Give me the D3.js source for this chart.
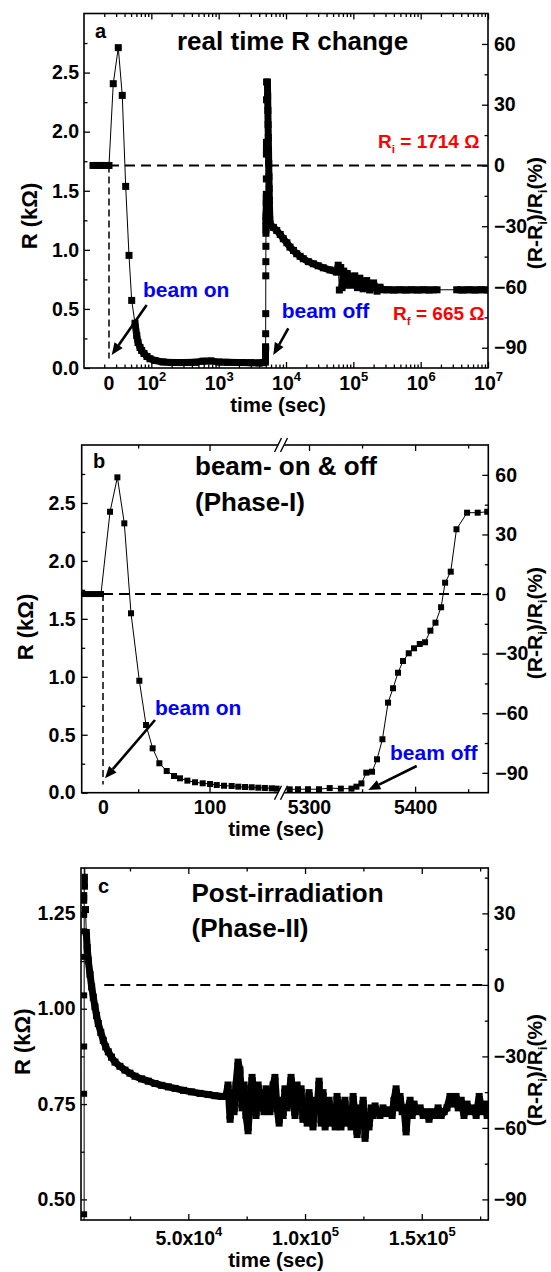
<!DOCTYPE html>
<html>
<head>
<meta charset="utf-8">
<title>R change under beam</title>
<script src="https://cdn.jsdelivr.net/npm/d3@7"></script>
<style>
  body { margin: 0; background: #fff; }
  svg text { font-family: "Liberation Sans", Arial, Helvetica, sans-serif; font-weight: bold; }
</style>
</head>
<body>
<svg id="fig" width="551" height="1272"></svg>
<script>
// ---------- data (time in s, R in kOhm) ----------
const RI = 1.714;

// panel a : log time axis, label "0" sits at beam-on
const aTimeZero = 23.5;
const aBeamOn = [[13.6,1.714],[15.6,1.714],[17.9,1.714],[20.5,1.714],[23.5,1.714],
  [27.2,2.406],[32.3,2.711],[37.0,2.307],[41.6,1.537],[46.6,0.953],[51.1,0.572],[57.2,0.379],[60.7,0.275],
  [63.4,0.216],[67.9,0.174],[71.9,0.148],[77.8,0.123],[86.2,0.097],[95.6,0.078],
  [113,0.064],[149,0.051],[196,0.047],[258,0.046],[339,0.047],[445,0.048],[585,0.058],[770,0.06],
  [1012,0.05],[1330,0.048],[1749,0.047],[2298,0.046],[3021,0.045],[3971,0.043],[4555,0.045]];
const aRise = [[4950,0.05],[4960,0.08],[4970,0.17],[4980,0.18],[4990,0.29],[5000,0.46],[5010,0.78],
  [5020,0.90],[5030,1.03],[5040,1.14],[5050,1.20],[5060,1.25],[5070,1.28],[5080,1.30],[5090,1.40],
  [5100,1.47],[5110,1.60],[5120,1.81],[5130,1.91],[5140,2.27],[5150,2.42]];
const aDecline = [[5300,2.42],[5340,2.30],[5380,2.18],[5420,2.06],[5460,1.95],[5500,1.84],[5540,1.73],
  [5580,1.62],[5620,1.52],[5660,1.42],[5700,1.33],[5740,1.26],[5788,1.22]];
const aRecover = [[6500,1.19],[7280,1.164],[8200,1.13],[9120,1.094],[10300,1.06],[11470,1.023],
  [12900,0.995],[14430,0.967],[16200,0.945],[18080,0.925],[21500,0.90],[25460,0.882],[30000,0.865],
  [35850,0.848],[45000,0.83],[56620,0.811],
  [59600,0.87],[62000,0.66],[65000,0.85],[68000,0.68],[72000,0.82],[76000,0.70],[81000,0.80],
  [89300,0.77],[95000,0.70],[105000,0.78],[115000,0.68],[125000,0.76],[140000,0.67],[158000,0.74],
  [175000,0.66],[200000,0.72],[225000,0.65],[249000,0.684],[276000,0.662],
  [330000,0.662],[400000,0.66],[490000,0.662],[600000,0.66],[730000,0.662],[900000,0.66],
  [1100000,0.662],[1350000,0.66],[1750000,0.662],
  [3430000,0.662],[4200000,0.66],[5200000,0.662],[6400000,0.66],[7900000,0.662],[10000000,0.66]];

// panel b : broken linear axis
const bOn = [[-17.8,1.714],[-12.2,1.714],[-6.6,1.714],[-1.9,1.714],
  [6.6,2.424],[13.5,2.721],[20,2.324],[26.3,1.548],[34.1,0.966],[40.4,0.584],[46.6,0.383],[52.9,0.254],
  [59.8,0.187],[66.7,0.144],[72.3,0.124],[79.2,0.104],[86.4,0.090],[93.6,0.081],[100.5,0.075],
  [106.8,0.066],[113.6,0.060],[120.8,0.058],[127,0.052],[133.3,0.049],[139.6,0.047],[145.8,0.043],
  [152,0.041],[158.4,0.038],[163,0.035]];
const bOff = [[5281.8,0.029],[5289.6,0.03],[5299,0.03],[5309.4,0.03],[5319.5,0.04],[5330,0.035],
  [5340,0.035],[5344.7,0.052],[5349.4,0.08],[5354,0.173],[5359.4,0.181],[5364.1,0.288],[5369.2,0.461],
  [5374.5,0.777],[5379.2,0.901],[5383.9,1.035],[5388.6,1.136],[5394,1.203],[5399,1.246],[5404.4,1.283],
  [5409.4,1.298],[5414.4,1.398],[5419.2,1.467],[5424.5,1.600],[5428.3,1.812],[5433.6,1.907],
  [5439,2.273],[5449,2.416],[5459,2.416],[5468,2.424]];

// panel c : post irradiation
const cRise = [[5354,0.173],[5359,0.181],[5364,0.288],[5369,0.461],[5374,0.777],[5379,0.901],
  [5384,1.035],[5389,1.136],[5394,1.203],[5399,1.246],[5404,1.283],[5409,1.298],[5414,1.398],
  [5419,1.467],[5424,1.600],[5428,1.812],[5434,1.907],[5439,2.273],[5449,2.416],[5459,2.416],[5468,2.424],
  [5520,2.1],[5580,1.75],[5640,1.45],[5680,1.346],[5720,1.32]];
const cDecay = [[5950,1.26],[6300,1.20],[6700,1.16],[7150,1.127],[7900,1.09],[8610,1.057],[9300,1.03],
  [10020,1.005],[10700,0.982],[11440,0.961],[12500,0.938],[13580,0.917],[14600,0.90],[15720,0.887],
  [17100,0.873],[18590,0.86],[20700,0.849],[22880,0.839],[25000,0.831],[27160,0.823],[30000,0.816],
  [32860,0.81],[35700,0.804],[38600,0.799],[41500,0.795],[44320,0.791],[47900,0.786],[51450,0.782],
  [55000,0.778],[58560,0.775],[61400,0.772],[64300,0.77]];
const cNoise = [[66100,0.77],[67000,0.80],[67900,0.71],[68700,0.78],[69600,0.73],[70400,0.80],
  [71300,0.86],[72100,0.84],[73000,0.74],[73900,0.80],[74700,0.72],[75600,0.68],[76400,0.75],
  [77300,0.82],[78100,0.78],[79000,0.72],[79900,0.80],[80700,0.74],[81600,0.78],[82400,0.73],
  [83300,0.79],[84100,0.75],[85000,0.73],[86300,0.80],[87100,0.82],[88000,0.74],[88900,0.70],
  [89700,0.76],[90600,0.72],[91400,0.79],[92300,0.74],[93100,0.77],[94000,0.82],[94900,0.76],
  [95700,0.72],[96600,0.80],[97400,0.74],[98300,0.79],[99100,0.71],[100000,0.76],[100900,0.70],
  [101700,0.78],[102600,0.72],[103400,0.69],[104300,0.76],[105100,0.73],[106000,0.81],[106900,0.70],
  [107700,0.78],[108600,0.69],[109400,0.74],[110300,0.76],[111100,0.70],[112000,0.74],[112900,0.69],
  [113700,0.77],[114600,0.72],[115400,0.69],[116300,0.75],[117100,0.76],[118000,0.70],[118900,0.73],
  [119700,0.69],[120600,0.77],[121400,0.72],[122300,0.67],[123100,0.74],[124000,0.70],[124900,0.76],
  [125700,0.66],[126600,0.72],[127400,0.69],[128300,0.74],[129100,0.72],[130000,0.745],[130900,0.73],
  [132100,0.72],[133400,0.74],[134700,0.725],[136000,0.735],[137300,0.72],[138100,0.76],[139000,0.79],
  [139900,0.74],[140700,0.77],[141600,0.73],[142400,0.74],[143300,0.677],[144100,0.74],[145000,0.76],
  [145900,0.72],[146700,0.75],[148000,0.73],[149300,0.74],[150600,0.72],[151900,0.73],[153100,0.71],
  [154400,0.73],[155700,0.72],[157000,0.74],[158300,0.72],[159600,0.73],[160800,0.74],[162100,0.77],
  [163000,0.76],[163900,0.75],[164700,0.77],[165600,0.74],[166900,0.76],[168100,0.72],[169400,0.75],
  [170700,0.73],[172000,0.74],[173300,0.72],[174600,0.77],[175800,0.73],[177100,0.75],[178000,0.72]];

// axis ticks
const rTicksMajor = [-90, -60, -30, 0, 30, 60];
const rTicksMinor = [-75, -45, -15, 15, 45];
const kTicksMajor = [0, 0.5, 1.0, 1.5, 2.0, 2.5];
const kTicksMinor = [0.25, 0.75, 1.25, 1.75, 2.25, 2.75];
const aDecades = [100, 1e3, 1e4, 1e5, 1e6, 1e7];
const bTicksLeft = [0, 100], bTicksLeftMinor = [33];
const bTicksRight = [5300, 5400], bTicksRightMinor = [5350, 5450];
const cTicksX = [50000, 100000, 150000], cTicksXMinor = [25000, 75000, 125000, 175000];
const cTicksY = [0.5, 0.75, 1.0, 1.25], cTicksYMinor = [0.625, 0.875, 1.125];
const cTicksR = [-90, -60, -30, 0, 30], cTicksRMinor = [-75, -45, -15, 15, 45];

// ---------- drawing ----------
const svg = d3.select("#fig");
const FF = "'Liberation Sans', Arial, Helvetica, sans-serif";
const TICK_FS = 19.5;
const pct = r => (r - RI) / RI * 100;

function styleAxis(sel, fs) {
  sel.attr("font-family", FF).attr("font-size", fs).attr("font-weight", "bold");
  sel.select(".domain").remove();
  sel.selectAll(".tick line").attr("stroke", "#000").attr("stroke-width", 1.3);
  sel.selectAll(".tick text").attr("fill", "#000");
}

function axis(g, gen, tx, ty, values, size, pad, fmt) {
  const s = g.append("g").attr("transform", `translate(${tx},${ty})`)
    .call(gen.tickValues(values).tickSizeInner(-size).tickSizeOuter(0).tickPadding(pad).tickFormat(fmt || ""));
  styleAxis(s, TICK_FS);
  return s;
}

// squares joined by a thin line; close neighbours are merged into a solid band
function drawSeries(g, pts, size, joinDist) {
  g.append("path").attr("d", d3.line()(pts)).attr("fill", "none")
    .attr("stroke", "#000").attr("stroke-width", 1);
  const band = [];
  for (let i = 1; i < pts.length; i++) {
    if (Math.hypot(pts[i][0] - pts[i-1][0], pts[i][1] - pts[i-1][1]) < joinDist) band.push([pts[i-1], pts[i]]);
  }
  g.selectAll(null).data(band).join("line")
    .attr("x1", d => d[0][0]).attr("y1", d => d[0][1]).attr("x2", d => d[1][0]).attr("y2", d => d[1][1])
    .attr("stroke", "#000").attr("stroke-width", size);
  g.selectAll(null).data(pts).join("rect")
    .attr("x", d => d[0] - size / 2).attr("y", d => d[1] - size / 2)
    .attr("width", size).attr("height", size).attr("fill", "#000");
}

function arrow(g, x1, y1, x2, y2) {
  const a = Math.atan2(y2 - y1, x2 - x1), L = 12, W = 5;
  const bx = x2 - L * Math.cos(a), by = y2 - L * Math.sin(a);
  g.append("line").attr("x1", x1).attr("y1", y1).attr("x2", bx).attr("y2", by)
    .attr("stroke", "#000").attr("stroke-width", 2.6);
  g.append("polygon").attr("fill", "#000").attr("points", [
    [x2, y2], [bx + W * Math.sin(a), by - W * Math.cos(a)], [bx - W * Math.sin(a), by + W * Math.cos(a)]
  ].map(p => p.join(",")).join(" "));
}

function text(g, x, y, str, size, opts = {}) {
  return g.append("text").attr("x", x).attr("y", y).attr("font-size", size)
    .attr("text-anchor", opts.anchor || "start").attr("fill", opts.fill || "#000").text(str);
}

function yLabel(g, x, y, size) {
  g.append("text").attr("transform", `translate(${x},${y}) rotate(-90)`)
    .attr("text-anchor", "middle").attr("font-size", size).text("R (k\u03A9)");
}

function rLabel(g, x, y, size) {
  const t = g.append("text").attr("transform", `translate(${x},${y}) rotate(-90)`)
    .attr("text-anchor", "middle").attr("font-size", size);
  const sub = size * 0.62, d = size * 0.25;
  t.append("tspan").text("(R-R");
  t.append("tspan").text("i").attr("font-size", sub).attr("dy", d);
  t.append("tspan").text(")/R").attr("dy", -d);
  t.append("tspan").text("i").attr("font-size", sub).attr("dy", d);
  t.append("tspan").text("(%)").attr("dy", -d);
}

function subText(g, x, y, main, sub, rest, size, fill) {
  const t = text(g, x, y, "", size, { fill });
  t.append("tspan").text(main);
  t.append("tspan").text(sub).attr("font-size", size * 0.62).attr("dy", 5);
  t.append("tspan").text(rest).attr("dy", -5);
}

function frame(g, x0, x1, y0, y1) {
  g.append("rect").attr("x", x0).attr("y", y1).attr("width", x1 - x0).attr("height", y0 - y1)
    .attr("fill", "none").attr("stroke", "#000").attr("stroke-width", 1.6);
}

function clip(id, x0, x1, y0, y1) {
  svg.append("clipPath").attr("id", id).append("rect")
    .attr("x", x0).attr("y", y1).attr("width", x1 - x0).attr("height", y0 - y1);
}

function hDash(g, x0, x1, y) {
  g.append("line").attr("x1", x0).attr("x2", x1).attr("y1", y).attr("y2", y)
    .attr("stroke", "#000").attr("stroke-width", 2).attr("stroke-dasharray", "10,6");
}
function vDash(g, x, y0, y1) {
  g.append("line").attr("x1", x).attr("x2", x).attr("y1", y0).attr("y2", y1)
    .attr("stroke", "#000").attr("stroke-width", 1.5).attr("stroke-dasharray", "7,4");
}

const fmt1 = d3.format(".1f");

// ================= panel a =================
{
  const L = 84, R = 488, B = 368, T = 13.5;
  const x = d3.scaleLog().domain([10, 1e7]).range([L, R]);
  const y = d3.scaleLinear().domain([0, 3]).range([B, T]);
  const yr = d3.scaleLinear().domain([pct(0), pct(3)]).range([B, T]);
  const g = svg.append("g");
  clip("clipA", L, R, B, T);

  const minor = [];
  for (let d = 10; d < 1e7; d *= 10) for (let k = 2; k <= 9; k++) minor.push(d * k);

  const bx = axis(g, d3.axisBottom(x), 0, B, aDecades, 6, 8, () => "10");
  bx.selectAll(".tick text").append("tspan").attr("dy", -9).attr("font-size", 13)
    .text(d => Math.round(Math.log10(d)));
  axis(g, d3.axisBottom(x), 0, B, minor, 3.5, 0);
  axis(g, d3.axisTop(x), 0, T, aDecades, 6, 0);
  axis(g, d3.axisTop(x), 0, T, minor, 3.5, 0);
  text(g, x(aTimeZero), 390, "0", TICK_FS, { anchor: "middle" });

  axis(g, d3.axisLeft(y), L, 0, kTicksMajor, 6, 5, fmt1);
  axis(g, d3.axisLeft(y), L, 0, kTicksMinor, 3.5, 0);
  axis(g, d3.axisRight(yr), R, 0, rTicksMajor, 6, 6, d3.format("d"));
  axis(g, d3.axisRight(yr), R, 0, rTicksMinor, 3.5, 0);

  hDash(g, x(aTimeZero), R, y(RI));
  vDash(g, x(aTimeZero), y(RI), y(0.08));

  const pg = g.append("g").attr("clip-path", "url(#clipA)");
  const P = d => [x(d[0]), y(d[1])];
  drawSeries(pg, aBeamOn.map(P), 7, 14);
  drawSeries(pg, aRise.map(P), 7, 12);
  drawSeries(pg, aDecline.concat(aRecover).map(P), 7, 19);
  frame(g, L, R, B, T);

  text(g, 95, 38, "a", 20);
  text(g, 177, 49.5, "real time R change", 26);
  subText(g, 378, 148, "R", "i", " = 1714 \u03A9", 19, "#f00");
  subText(g, 393, 320, "R", "f", " = 665 \u03A9", 19, "#f00");
  text(g, 143, 296.5, "beam on", 21, { fill: "#00f" });
  arrow(g, 146.7, 305, 111.7, 355);
  text(g, 281.7, 318.3, "beam off", 21, { fill: "#00f" });
  arrow(g, 288.3, 328.3, 273.3, 355);

  yLabel(g, 37, 216, 22);
  rLabel(g, 542, 213, 21);
  text(g, 278, 412, "time (sec)", 20.5, { anchor: "middle" });
}

// ================= panel b =================
{
  const L = 81.7, R = 488.3, B = 792.7, T = 445, BR = 282.5;
  const x1 = d3.scaleLinear().domain([-20, 168.5]).range([L, BR]);
  const x2 = d3.scaleLinear().domain([5275, 5469]).range([BR, R]);
  const xb = t => t < 2000 ? x1(t) : x2(t);
  const y = d3.scaleLinear().domain([0, 3]).range([B, T]);
  const yr = d3.scaleLinear().domain([pct(0), pct(3)]).range([B, T]);
  const g = svg.append("g");
  clip("clipB", L, R, B, T);

  axis(g, d3.axisBottom(x1), 0, B, bTicksLeft, 6, 7, d3.format("d"));
  axis(g, d3.axisBottom(x1), 0, B, bTicksLeftMinor, 3.5, 0);
  axis(g, d3.axisBottom(x2), 0, B, bTicksRight, 6, 7, d3.format("d"));
  axis(g, d3.axisBottom(x2), 0, B, bTicksRightMinor, 3.5, 0);
  axis(g, d3.axisTop(x1), 0, T, bTicksLeft.slice(1), 6, 0);
  axis(g, d3.axisTop(x1), 0, T, bTicksLeftMinor, 3.5, 0);
  axis(g, d3.axisTop(x2), 0, T, bTicksRight, 6, 0);
  axis(g, d3.axisTop(x2), 0, T, bTicksRightMinor, 3.5, 0);
  g.selectAll(".tick").filter(d => d === 0).select("line").remove();

  axis(g, d3.axisLeft(y), L, 0, kTicksMajor, 6, 6, fmt1);
  axis(g, d3.axisLeft(y), L, 0, kTicksMinor, 3.5, 0);
  axis(g, d3.axisRight(yr), R, 0, rTicksMajor, 6, 7, d3.format("d"));
  axis(g, d3.axisRight(yr), R, 0, rTicksMinor, 3.5, 0);

  hDash(g, xb(0), R, y(RI));
  vDash(g, xb(0), y(RI), y(0.07));

  const pg = g.append("g").attr("clip-path", "url(#clipB)");
  const P = d => [xb(d[0]), y(d[1])];
  drawSeries(pg, bOn.concat(bOff).map(P), 6, 0);
  frame(g, L, R, B, T);

  // axis break marks
  [B, T].forEach(yy => {
    g.append("polygon").attr("points", `${BR-7},${yy+6} ${BR-1},${yy-6} ${BR+5},${yy-6} ${BR-1},${yy+6}`)
      .attr("fill", "#fff");
    [-4, 2].forEach(o => g.append("line").attr("x1", BR + o - 4).attr("y1", yy + 7)
      .attr("x2", BR + o + 3).attr("y2", yy - 7).attr("stroke", "#000").attr("stroke-width", 1.4));
  });

  text(g, 93, 468, "b", 20);
  text(g, 195, 475, "beam- on & off", 26);
  text(g, 195, 511, "(Phase-I)", 26);
  text(g, 155, 715, "beam on", 21, { fill: "#00f" });
  arrow(g, 155, 720, 105, 778.3);
  text(g, 390, 760, "beam off", 21, { fill: "#00f" });
  arrow(g, 416.7, 766, 368.3, 790);

  yLabel(g, 33, 627, 22);
  rLabel(g, 542, 623, 21);
  text(g, 276, 836, "time (sec)", 20.5, { anchor: "middle" });
}

// ================= panel c =================
{
  const L = 81, R = 488.3, B = 1220, T = 868;
  const x = d3.scaleLinear().domain([4030, 178500]).range([L, R]);
  const y = d3.scaleLinear().domain([0.446, 1.369]).range([B, T]);
  const yr = d3.scaleLinear().domain([-90, 30]).range([y(0.5), y(1.25)]);
  const g = svg.append("g");
  clip("clipC", L, R, B, T);

  const bx = axis(g, d3.axisBottom(x), 0, B, cTicksX, 6, 11, d => {
    const e = Math.floor(Math.log10(d));
    return fmt1(d / Math.pow(10, e)) + "x10";
  });
  bx.selectAll(".tick text").append("tspan").attr("dy", -9).attr("font-size", 13)
    .text(d => Math.floor(Math.log10(d)));
  axis(g, d3.axisBottom(x), 0, B, cTicksXMinor, 3.5, 0);
  axis(g, d3.axisTop(x), 0, T, cTicksX, 6, 0);
  axis(g, d3.axisTop(x), 0, T, cTicksXMinor, 3.5, 0);

  axis(g, d3.axisLeft(y), L, 0, cTicksY, 6, 5.5, d3.format(".2f"));
  axis(g, d3.axisLeft(y), L, 0, cTicksYMinor, 3.5, 0);
  axis(g, d3.axisRight(yr), R, 0, cTicksR, 6, 5.5, d3.format("d"));
  axis(g, d3.axisRight(yr), R, 0, cTicksRMinor, 3.5, 0);

  hDash(g, x(14000), R, yr(0));

  const pg = g.append("g").attr("clip-path", "url(#clipC)");
  const P = d => [x(d[0]), y(d[1])];
  drawSeries(pg, cRise.map(P), 6, 12);
  drawSeries(pg, cDecay.map(P), 7, 20);
  drawSeries(pg, cDecay.slice(-1).concat(cNoise).map(P), 7, 45);
  frame(g, L, R, B, T);

  text(g, 98, 893, "c", 20);
  text(g, 191.5, 901.7, "Post-irradiation", 26);
  text(g, 191.5, 936.7, "(Phase-II)", 26);

  yLabel(g, 30, 1041.7, 22);
  rLabel(g, 542, 1070, 21);
  text(g, 276, 1267, "time (sec)", 20.5, { anchor: "middle" });
}
</script>
</body>
</html>
